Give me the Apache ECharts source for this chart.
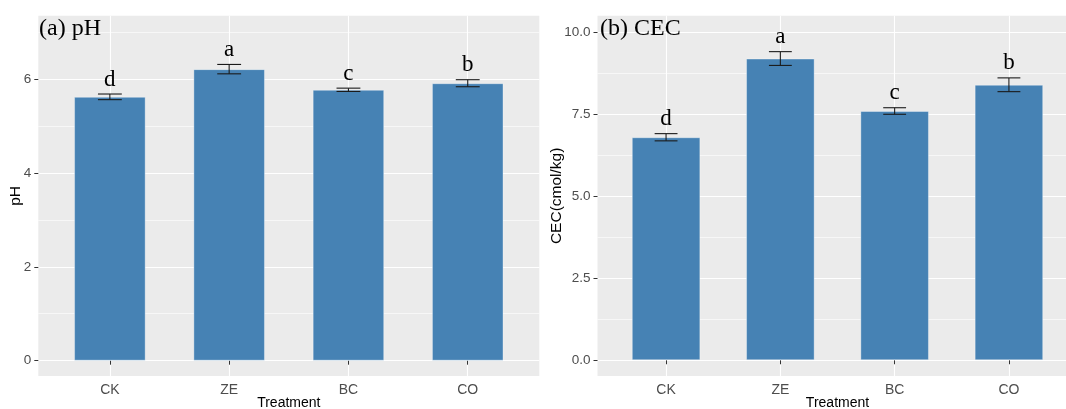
<!DOCTYPE html>
<html>
<head>
<meta charset="utf-8">
<script src="https://cdn.jsdelivr.net/npm/echarts@6/dist/echarts.min.js"></script>
<style>
  html, body { margin: 0; padding: 0; background: #ffffff; }
  #chart { width: 1066px; height: 409px; }
</style>
</head>
<body>
<div id="chart"></div>
<script>
// Treatments on the x axis
const treatments = ['CK', 'ZE', 'BC', 'CO'];

// (a) soil pH: mean, standard error, significance letters
const phMean = [5.62, 6.21, 5.77, 5.91];
const phSe = [0.06, 0.10, 0.035, 0.075];
const phLetters = ['d', 'a', 'c', 'b'];
const phTicks = [0, 2, 4, 6];

// (b) cation exchange capacity, cmol/kg
const cecMean = [6.80, 9.20, 7.60, 8.40];
const cecSe = [0.11, 0.21, 0.10, 0.21];
const cecLetters = ['d', 'a', 'c', 'b'];
const cecTicks = [0, 2.5, 5, 7.5, 10];

const chart = echarts.init(document.getElementById('chart'), null, { renderer: 'canvas' });

const PANEL_BG = '#EBEBEB';
const BAR_COLOR = '#4682B4';
const SANS = '"Liberation Sans", Arial, sans-serif';
const SERIF = '"Liberation Serif", "Times New Roman", serif';
const catPositions = treatments.map((_, i) => i + 1);

function xAxisFor(gridIndex) {
  return {
    type: 'value', gridIndex,
    min: 0.4, max: 4.6, minInterval: 1, maxInterval: 1,
    name: 'Treatment', nameLocation: 'middle', nameGap: 20, nameMoveOverlap: false,
    nameTextStyle: { fontFamily: SANS, fontSize: 14, color: '#000' },
    axisLine: { show: false },
    axisTick: { show: true, length: 4, customValues: catPositions, lineStyle: { color: '#333333', width: 1 } },
    axisLabel: {
      customValues: catPositions, margin: 7,
      fontFamily: SANS, fontSize: 14, color: '#4D4D4D',
      formatter: v => treatments[Math.round(v) - 1] || ''
    },
    splitLine: { show: true, lineStyle: { color: '#ffffff', width: 1.1 } }
  };
}

function yAxisFor(gridIndex, min, max, step, ticks, name, nameGap, digits) {
  return {
    type: 'value', gridIndex,
    min, max, minInterval: step, maxInterval: step,
    name, nameLocation: 'middle', nameGap, nameMoveOverlap: false,
    nameTextStyle: { fontFamily: SANS, fontSize: 15.5, color: '#000' },
    axisLine: { show: false },
    axisTick: { show: true, length: 4, customValues: ticks, lineStyle: { color: '#333333', width: 1 } },
    axisLabel: {
      customValues: ticks, margin: 7,
      fontFamily: SANS, fontSize: 13.5, color: '#4D4D4D',
      formatter: v => Number(v).toFixed(digits)
    },
    splitLine: { show: true, lineStyle: { color: '#ffffff', width: 1.1 } },
    minorTick: { show: false, splitNumber: 2 },
    minorSplitLine: { show: true, lineStyle: { color: '#ffffff', width: 0.6 } }
  };
}

function barSeries(idx, means) {
  return {
    type: 'bar', xAxisIndex: idx, yAxisIndex: idx,
    data: means.map((m, i) => [catPositions[i], m]),
    barWidth: '60%',
    itemStyle: { color: BAR_COLOR, borderColor: 'rgba(255,255,255,0.35)', borderWidth: 1 },
    silent: true, z: 2
  };
}

// Error bars (mean ± se) with the significance letter above each cap
function errorSeries(idx, means, ses, letters) {
  return {
    type: 'custom', xAxisIndex: idx, yAxisIndex: idx, z: 5, silent: true,
    data: means.map((m, i) => [catPositions[i], m, ses[i]]),
    renderItem: (params, api) => {
      const x = api.value(0), m = api.value(1), s = api.value(2);
      const hi = api.coord([x, m + s]);
      const lo = api.coord([x, m - s]);
      const capL = api.coord([x - 0.1, m + s])[0];
      const capR = api.coord([x + 0.1, m + s])[0];
      const line = { stroke: '#1a1a1a', lineWidth: 1.1 };
      return {
        type: 'group',
        children: [
          { type: 'line', shape: { x1: hi[0], y1: hi[1], x2: lo[0], y2: lo[1] }, style: line },
          { type: 'line', shape: { x1: capL, y1: hi[1], x2: capR, y2: hi[1] }, style: line },
          { type: 'line', shape: { x1: capL, y1: lo[1], x2: capR, y2: lo[1] }, style: line },
          {
            type: 'text',
            style: {
              text: letters[params.dataIndex], x: hi[0], y: hi[1] - 3,
              align: 'center', verticalAlign: 'bottom',
              fontFamily: SERIF, fontSize: 23, fill: '#000'
            }
          }
        ]
      };
    }
  };
}

const option = {
  backgroundColor: '#ffffff',
  animation: false,
  title: [
    { text: '(a) pH', left: 39, top: 17, padding: 0,
      textStyle: { fontFamily: SERIF, fontSize: 24, fontWeight: 'normal', color: '#000' } },
    { text: '(b) CEC', left: 600, top: 17, padding: 0,
      textStyle: { fontFamily: SERIF, fontSize: 24, fontWeight: 'normal', color: '#000' } }
  ],
  grid: [
    { left: 38.3, top: 15.7, width: 501, height: 360.3, show: true, backgroundColor: PANEL_BG,
      borderWidth: 0, containLabel: false, outerBoundsMode: 'none' },
    { left: 597.5, top: 15.7, width: 480, height: 360.3, show: true, backgroundColor: PANEL_BG,
      borderWidth: 0, containLabel: false, outerBoundsMode: 'none' }
  ],
  xAxis: [xAxisFor(0), xAxisFor(1)],
  yAxis: [
    yAxisFor(0, -0.326, 7.348, 2, phTicks, 'pH', 15, 0),
    yAxisFor(1, -0.48, 10.506, 2.5, cecTicks, 'CEC(cmol/kg)', 33, 1)
  ],
  series: [
    barSeries(0, phMean),
    errorSeries(0, phMean, phSe, phLetters),
    barSeries(1, cecMean),
    errorSeries(1, cecMean, cecSe, cecLetters)
  ]
};

chart.setOption(option);
</script>
</body>
</html>
